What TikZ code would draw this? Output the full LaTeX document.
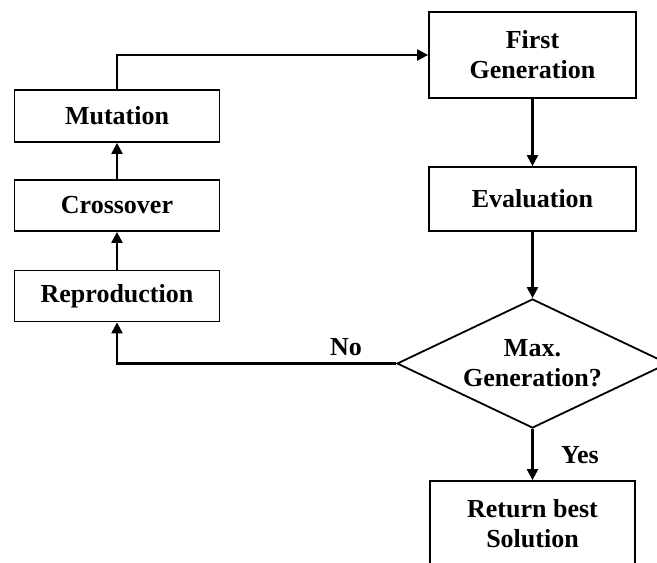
\documentclass[tikz,border=0pt]{standalone}
\usepackage{fontspec}
\setmainfont{Liberation Serif}
\usetikzlibrary{positioning,shapes.geometric,arrows.meta}
\tikzstyle{block}    = [rectangle, draw=black, line width=1.8pt, minimum width=205pt, inner sep=0pt, align=center, font=\fontsize{26}{30}\selectfont\bfseries]
\tikzstyle{decision} = [diamond, draw=black, line width=1.8pt, shape aspect=2.1, minimum width=271pt, minimum height=129pt, inner sep=0pt, align=center, font=\fontsize{26}{30}\selectfont\bfseries]
\tikzstyle{arrow}    = [line width=2.2pt,-{Triangle[length=11pt,width=11pt]}]
\tikzstyle{tag}      = [inner sep=0pt, font=\fontsize{26}{30}\selectfont\bfseries]

\begin{document}
\begin{tikzpicture}[x=1pt,y=-1pt]
		\useasboundingbox (0,0) rectangle (657,563);
		\clip (0,0) rectangle (657,563);

		\node[block, minimum height=52pt] (mutation) at (117,116) {Mutation};
		\node[block, minimum height=51pt] (crossover) at (117,205.5) {Crossover};
		\node[block, minimum height=51pt] (reproduction) at (117,296) {Reproduction};

		\node[block, minimum width=207pt, minimum height=86pt] (first) at (532.5,55) {First\\Generation};
		\node[block, minimum width=207pt, minimum height=64pt] (evaluation) at (532.5,199) {Evaluation};
		\node[decision] (maxgen) at (532.5,363.5) {Max.\\Generation?};
		\node[block, minimum height=86pt] (best) at (532.5,524) {Return best\\Solution};

		\node[tag] (no) at (346,347) {No};
		\node[tag] (yes) at (580,455) {Yes};

		\draw[arrow] (mutation.north) |- (first.west);
		\draw[arrow] (first) -- (evaluation);
		\draw[arrow] (evaluation) -- (maxgen);
		\draw[arrow] (maxgen) -- (best);
		\draw[arrow] (maxgen.west) -| (reproduction.south);
		\draw[arrow] (reproduction) -- (crossover);
		\draw[arrow] (crossover) -- (mutation);
	\end{tikzpicture}
\end{document}
